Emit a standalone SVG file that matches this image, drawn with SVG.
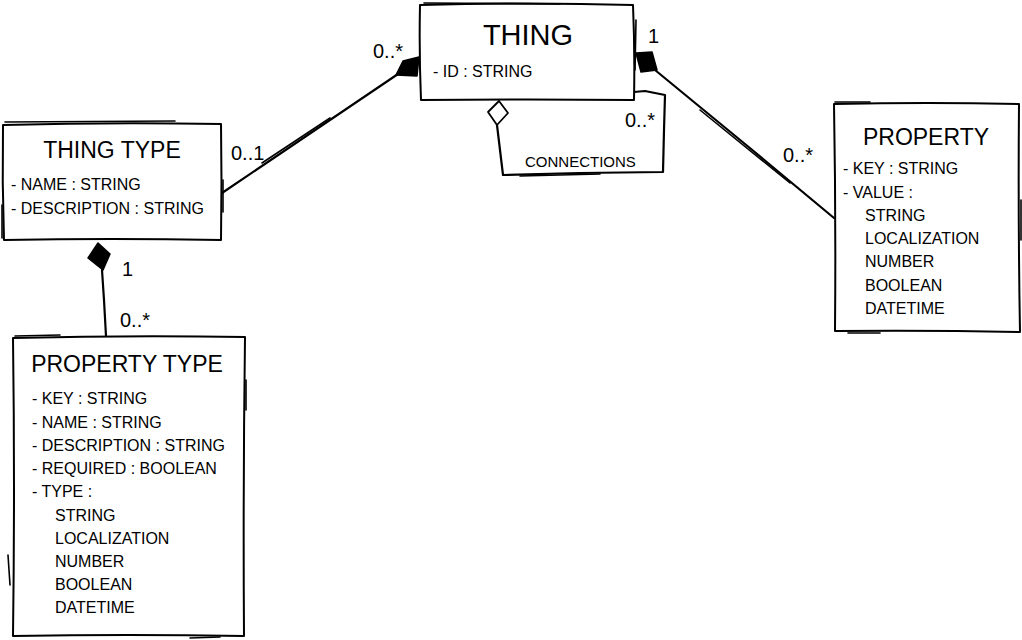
<svg xmlns="http://www.w3.org/2000/svg" width="1022" height="640" viewBox="0 0 1022 640">
<style>
.box{fill:#fff;stroke:#000;stroke-width:2;stroke-linejoin:round;stroke-linecap:round}
.sk{fill:none;stroke:#000;stroke-width:1.6;stroke-linecap:round}
.ln{fill:none;stroke:#000;stroke-width:2.2;stroke-linecap:round;stroke-linejoin:round}
.fd{fill:#000;stroke:#000;stroke-width:1.5;stroke-linejoin:round}
.hd{fill:#fff;stroke:#000;stroke-width:1.8;stroke-linejoin:round}
text{font-family:"Liberation Sans",Arial,sans-serif;fill:#000}
.ttl{font-size:23px;text-anchor:middle}
.big{font-size:29px;text-anchor:middle}
.att{font-size:16px}
.mul{font-size:20px}
.lbl{font-size:15px}
</style>
<rect width="1022" height="640" fill="#fff"/>
<g id="connectors">
  <path class="ln" d="M398,74 L222,193"/>
  <path class="sk" d="M330,118 L262,163"/>
  <path class="ln" d="M655,70 L745,144 L834,218"/>
  <path class="sk" d="M700,110 L790,183"/>
  <path class="ln" d="M102,270 L104,300 L106,336"/>
  <path class="ln" d="M497,125 L500,150 L503,175 L580,173 L663,172 L664,130 L665,95 L645,91 L634,92"/>
  <path class="sk" d="M520,176 L600,174"/>
  <polygon class="fd" points="396,75 403,61 419,57 417,76"/>
  <polygon class="fd" points="636,53 652,52 657,70 641,72"/>
  <polygon class="fd" points="98,243 110,254 103,270 88,258"/>
  <polygon class="hd" points="499,101 508,113 497,125 488,112"/>
  <text class="mul" x="373" y="58">0..*</text>
  <text class="mul" x="648" y="43">1</text>
  <text class="mul" x="625" y="127">0..*</text>
  <text class="lbl" x="525" y="167">CONNECTIONS</text>
  <text class="mul" x="231" y="160">0..1</text>
  <text class="mul" x="783" y="162">0..*</text>
  <text class="mul" x="122" y="276">1</text>
  <text class="mul" x="120" y="327">0..*</text>
</g>
<g id="thing">
  <path class="box" d="M420,5 Q530,2 633,5 Q635,52 634,100 Q527,99 421,100 Q419,52 420,5 Z"/>
  <path class="sk" d="M424,3 L560,4"/>
  <path class="sk" d="M636,20 L635,70"/>
  <text class="big" x="528" y="45">THING</text>
  <text class="att" x="433" y="77">- ID : STRING</text>
</g>
<g id="thing-type">
  <path class="box" d="M3,125 Q110,122 221,124 Q222,182 221,240 Q112,238 4,240 Q2,182 3,125 Z"/>
  <path class="sk" d="M5,122 L175,121"/>
  <path class="sk" d="M223,180 L223,212"/>
  <path class="sk" d="M2,205 L2,238"/>
  <text class="ttl" x="112" y="158">THING TYPE</text>
  <text class="att" x="11" y="190">- NAME : STRING</text>
  <text class="att" x="11" y="214">- DESCRIPTION : STRING</text>
</g>
<g id="property-type">
  <path class="box" d="M13,338 Q130,335 245,337 Q243,487 244,636 Q128,634 13,636 Q15,487 13,338 Z"/>
  <path class="sk" d="M15,336 L60,335"/>
  <path class="sk" d="M246,380 L246,410"/>
  <path class="sk" d="M8,555 L10,585"/>
  <path class="sk" d="M190,638 L220,637"/>
  <text class="ttl" x="127" y="372">PROPERTY TYPE</text>
  <text class="att" x="32" y="404">- KEY : STRING</text>
  <text class="att" x="32" y="428">- NAME : STRING</text>
  <text class="att" x="32" y="451">- DESCRIPTION : STRING</text>
  <text class="att" x="32" y="474">- REQUIRED : BOOLEAN</text>
  <text class="att" x="32" y="497">- TYPE :</text>
  <text class="att" x="55" y="521">STRING</text>
  <text class="att" x="55" y="544">LOCALIZATION</text>
  <text class="att" x="55" y="567">NUMBER</text>
  <text class="att" x="55" y="590">BOOLEAN</text>
  <text class="att" x="55" y="613">DATETIME</text>
</g>
<g id="property">
  <path class="box" d="M834,104 Q928,102 1019,104 Q1018,218 1020,332 Q926,330 835,331 Q836,218 834,104 Z"/>
  <path class="sk" d="M835,102 L870,102"/>
  <path class="sk" d="M1021,200 L1021,240"/>
  <path class="sk" d="M848,333 L880,333"/>
  <text class="ttl" x="926" y="145">PROPERTY</text>
  <text class="att" x="843" y="174">- KEY : STRING</text>
  <text class="att" x="843" y="198">- VALUE :</text>
  <text class="att" x="865" y="221">STRING</text>
  <text class="att" x="865" y="244">LOCALIZATION</text>
  <text class="att" x="865" y="267">NUMBER</text>
  <text class="att" x="865" y="291">BOOLEAN</text>
  <text class="att" x="865" y="314">DATETIME</text>
</g>
</svg>
